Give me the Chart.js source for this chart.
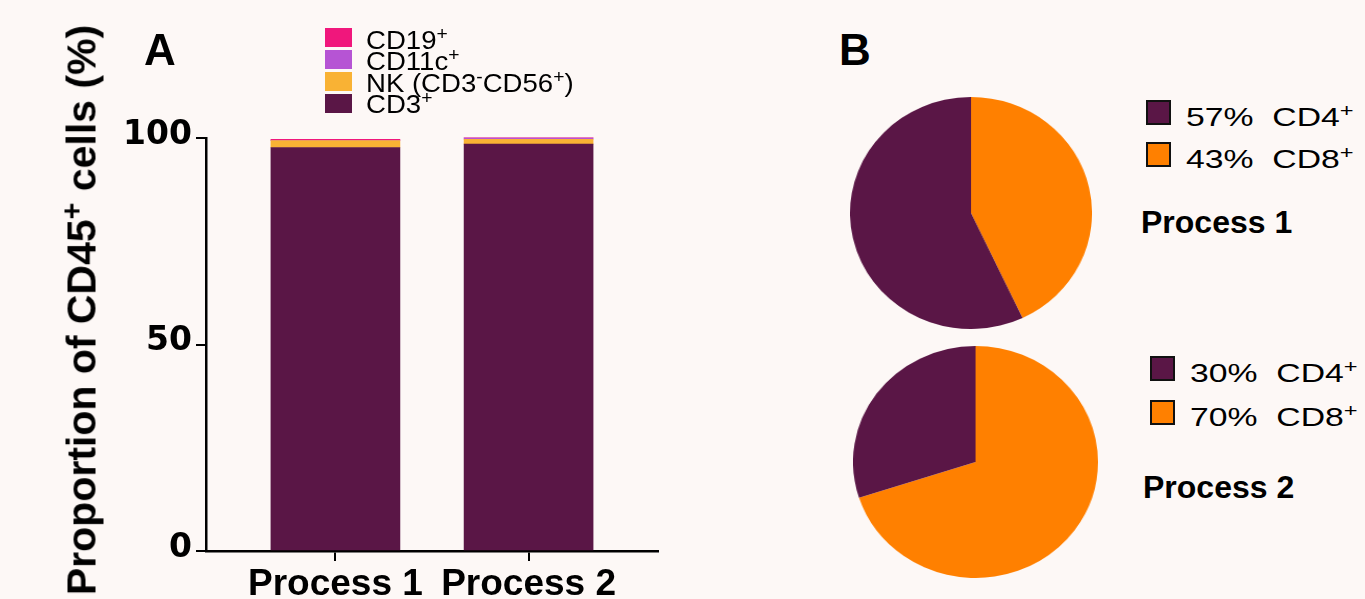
<!DOCTYPE html>
<html>
<head>
<meta charset="utf-8">
<script src="https://cdn.jsdelivr.net/npm/chart.js@4.4.1/dist/chart.umd.min.js"></script>
<style>
  html, body { margin: 0; padding: 0; }
  body { width: 1365px; height: 599px; background: #fdf8f6; position: relative; overflow: hidden;
         font-family: "Liberation Sans", Arial, sans-serif; color: #000; }
  canvas { position: absolute; }
  .txt { position: absolute; white-space: nowrap; line-height: 1; }
  .sup { font-size: 0.7em; position: relative; top: -0.5em; }
  .panel { font-weight: bold; font-size: 44px; }
  .ytitle { font-weight: bold; font-size: 41px; line-height: 41px; transform: translate(-50%, -50%) rotate(-90deg); }
  .box { position: absolute; box-sizing: border-box; }
  .legA { font-size: 26px; transform: scaleX(1.06); transform-origin: 0 0; }
  .legB { font-size: 25px; transform: scaleX(1.35); transform-origin: 0 0; }
  .ptitle { font-weight: bold; font-size: 32px; }
</style>
</head>
<body>
<canvas id="bars" width="700" height="599" style="left:0;top:0"></canvas>
<canvas id="pie1" width="232" height="232" style="left:850px;top:97px;width:242px;height:232px"></canvas>
<canvas id="pie2" width="232" height="232" style="left:853px;top:346px;width:245px;height:232px"></canvas>
<div id="overlay"></div>
<script>
// ---- data ----
const categories = ['Process 1', 'Process 2'];
const cd3Pct   = [97.7, 98.5];
const nkPct    = [1.7, 1.2];
const cd11cPct = [0.05, 0.3];
const cd19Pct  = [0.25, 0.05];
const yTicks = [0, 50, 100];

const subsetNames = ['CD3<span class="sup">+</span>',
                     'NK (CD3<span class="sup">-</span>CD56<span class="sup">+</span>)',
                     'CD11c<span class="sup">+</span>',
                     'CD19<span class="sup">+</span>'];
const tSubsets = ['CD4', 'CD8'];
const cd4Share = [57, 30];
const cd8Share = [43, 70];

// ---- colours ----
const PURPLE = '#5a1646';
const NK_ORANGE = '#f9b234';
const VIOLET = '#b654d4';
const PINK = '#f0177c';
const CD8_ORANGE = '#ff8000';
const subsetColors = [PURPLE, NK_ORANGE, VIOLET, PINK];

const overlay = document.getElementById('overlay');
function addText(html, cls, left, top, extra) {
  const d = document.createElement('div');
  d.className = 'txt ' + cls;
  d.innerHTML = html;
  d.style.left = left + 'px';
  d.style.top = top + 'px';
  if (extra) Object.assign(d.style, extra);
  overlay.appendChild(d);
  return d;
}
function addBox(color, left, top, w, h, border) {
  const b = document.createElement('div');
  b.className = 'box';
  Object.assign(b.style, { left: left + 'px', top: top + 'px', width: w + 'px', height: h + 'px', background: color });
  if (border) b.style.border = border;
  overlay.appendChild(b);
}

// ---- panel A: stacked bars ----
const stacks = [cd3Pct, nkPct, cd11cPct, cd19Pct];
new Chart(document.getElementById('bars'), {
  type: 'bar',
  data: {
    labels: categories.map((_, i) => i),
    datasets: stacks.map((vals, k) => ({
      label: subsetNames[k].replace(/<[^>]+>/g, ''),
      data: vals,
      backgroundColor: subsetColors[k],
      borderWidth: 0,
      barThickness: 129,
      clip: false
    }))
  },
  options: {
    responsive: false,
    animation: false,
    devicePixelRatio: 1,
    layout: { padding: { left: 0, top: 138, right: 42, bottom: 0 } },
    plugins: { legend: { display: false }, tooltip: { enabled: false } },
    scales: {
      x: {
        type: 'linear', stacked: true, min: -0.67, max: 1.67, offset: false,
        afterBuildTicks: s => { s.ticks = categories.map((_, i) => ({ value: i })); },
        afterFit: s => { s.height = 48; },
        grid: { offset: false, drawOnChartArea: false, drawTicks: true, tickLength: 10, color: '#000', lineWidth: 2 },
        border: { color: '#000', width: 2.5 },
        ticks: {
          callback: v => categories[v],
          color: '#000', padding: 2, maxRotation: 0, autoSkip: false,
          font: { family: '"Liberation Sans", Arial, sans-serif', size: 37, weight: 'bold' }
        }
      },
      y: {
        stacked: true, min: 0, max: 100,
        afterBuildTicks: s => { s.ticks = yTicks.map(v => ({ value: v })); },
        afterFit: s => { s.width = 206; },
        grid: { drawOnChartArea: false, drawTicks: true, tickLength: 10, color: '#000', lineWidth: 2 },
        border: { color: '#000', width: 2.5 },
        ticks: {
          color: '#000', padding: 4, labelOffset: -3,
          font: { family: '"DejaVu Sans", sans-serif', size: 33, weight: 'bold' }
        }
      }
    }
  }
});

// axis title and panel letters
addText('Proportion of CD45<span class="sup">+</span> cells (%)', 'ytitle', 84, 310);
addText('A', 'panel', 144, 28);
addText('B', 'panel', 839, 28);

// legend for panel A (top entry = top of stack)
for (let r = 0; r < 4; r++) {
  const k = 3 - r;
  addBox(subsetColors[k], 325, 28 + 22 * r, 27, 19);
  addText(subsetNames[k], 'legA', 366, 27 + 21.3 * r);
}

// ---- panel B: CD4 / CD8 pies ----
function drawPie(id, i) {
  new Chart(document.getElementById(id), {
    type: 'pie',
    data: {
      labels: [tSubsets[1], tSubsets[0]],
      datasets: [{ data: [cd8Share[i], cd4Share[i]], backgroundColor: [CD8_ORANGE, PURPLE], borderWidth: 0 }]
    },
    options: {
      responsive: false, animation: false, devicePixelRatio: 1,
      layout: { padding: 0 },
      plugins: { legend: { display: false }, tooltip: { enabled: false } }
    }
  });
}
drawPie('pie1', 0);
drawPie('pie2', 1);

const pieLegends = [
  { boxX: 1146, rows: [100, 142], textX: 1186, title: [1141, 206] },
  { boxX: 1150, rows: [356, 400], textX: 1190, title: [1143, 471] }
];
pieLegends.forEach((L, i) => {
  const shares = [cd4Share[i], cd8Share[i]];
  const cols = [PURPLE, CD8_ORANGE];
  for (let r = 0; r < 2; r++) {
    addBox(cols[r], L.boxX, L.rows[r], 25, 25, '2px solid #111');
    addText(shares[r] + '%&nbsp;&nbsp;' + tSubsets[r] + '<span class="sup">+</span>', 'legB', L.textX, L.rows[r] + 5);
  }
  addText(categories[i], 'ptitle', L.title[0], L.title[1]);
});
</script>
</body>
</html>
